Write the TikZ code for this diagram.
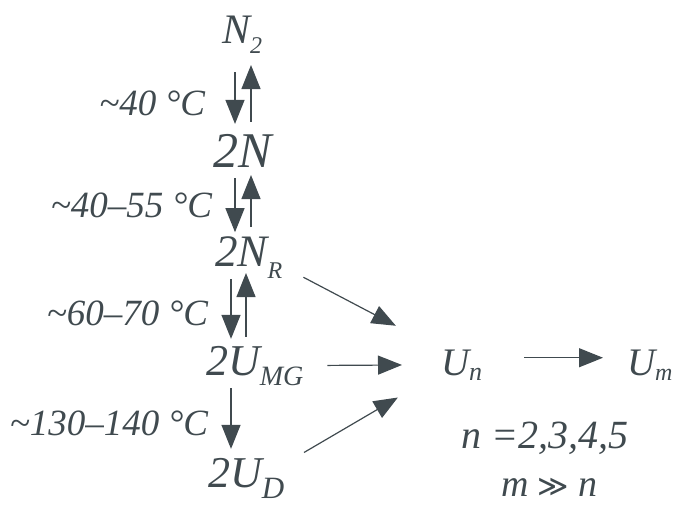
\documentclass[tikz,border=0pt]{standalone}
\usepackage{fontspec}
\setmainfont{Liberation Serif}
\newfontfamily\relfont{DejaVu Sans}
\usepackage{xcolor}
\usepackage{tikz}
\usetikzlibrary{arrows.meta,positioning,calc}
\definecolor{clrInk}{RGB}{64,74,79}
\newcommand{\lowsub}[3]{\raisebox{-#1pt}{\fontsize{#2}{#2}\selectfont #3}}
\tikzset{
  species/.style={inner sep=0pt,outer sep=0pt,anchor=base west,text=clrInk,
    font=\fontsize{#1}{#1}\selectfont\itshape},
  temp/.style={inner sep=0pt,outer sep=0pt,anchor=base east,text=clrInk,
    font=\fontsize{37}{37}\selectfont\itshape},
  arrow/.style={-{Triangle[length=24pt,width=19pt]},line width=1.2pt,draw=clrInk}
}
\begin{document}
\begin{tikzpicture}[x=1pt,y=-1pt]
  \useasboundingbox (0,0) rectangle (675,504);

  % species along the unfolding path
  \node[species=42] (n2) at (222,43) {N\lowsub{10}{24}{2}};
  \node[species=50] (nn) at (213,167) {2N};
  \node[species=45] (nr) at (215,266) {2N\lowsub{12}{24}{R}};
  \node[species=44] (umg) at (206,375) {2U\lowsub{10}{28}{MG}};
  \node[species=44] (ud) at (208,487) {2U\lowsub{11}{31}{D}};
  \node[species=39] (un) at (441,375) {U\lowsub{5}{26}{n}};
  \node[species=39] (um) at (627,375) {U\lowsub{5}{24}{m}};

  % transition temperatures
  \node[temp] (t1) at (205,115) {\textasciitilde40 °C};
  \node[temp] (t2) at (212,217) {\textasciitilde40–55 °C};
  \node[temp] (t3) at (208,325) {\textasciitilde60–70 °C};
  \node[temp] (t4) at (208,435) {\textasciitilde130–140 °C};

  \node[species=40] (nval) at (461,448) {n =2,3,4,5};
  \node[species=38] (mval) at (501,496) {m {\relfont\upshape\fontsize{30}{30}\selectfont ≫} n};

  \coordinate (downA) at (235,0);
  \coordinate (upA) at (251,0);
  \coordinate (downB) at (231,0);
  \coordinate (upB) at (246,0);

  \draw[arrow,shorten <=19pt,shorten >=10pt] (n2.south -| downA) -- (nn.north -| downA);
  \draw[arrow,shorten <=12pt,shorten >=12pt] (nn.north -| upA) -- (n2.south -| upA);

  \draw[arrow,shorten <=11pt,shorten >=4pt] (nn.south -| downA) -- (nr.north -| downA);
  \draw[arrow,shorten <=9pt,shorten >=8pt] (nr.north -| upA) -- (nn.south -| upA);

  \draw[arrow,shorten <=13pt,shorten >=7pt] (nr.base -| downB) -- (umg.north -| downB);
  \draw[arrow,shorten <=9pt,shorten >=7pt] (umg.north -| upB) -- (nr.base -| upB);

  \draw[arrow,shorten <=3pt,shorten >=9pt] (umg.south -| downB) -- (ud.north -| downB);

  \draw[arrow,shorten <=24pt,shorten >=51pt] (nr.-15) -- (un.north west);
  \draw[arrow,shorten <=24pt,shorten >=39pt] (umg.east) -- (un.west);
  \draw[arrow,shorten <=23pt,shorten >=50pt] (ud.20) -- (un.200);

  \draw[arrow,shorten <=42pt,shorten >=24pt] ([yshift=7pt]un.east) -- ([yshift=7pt]um.west);
\end{tikzpicture}
\end{document}
